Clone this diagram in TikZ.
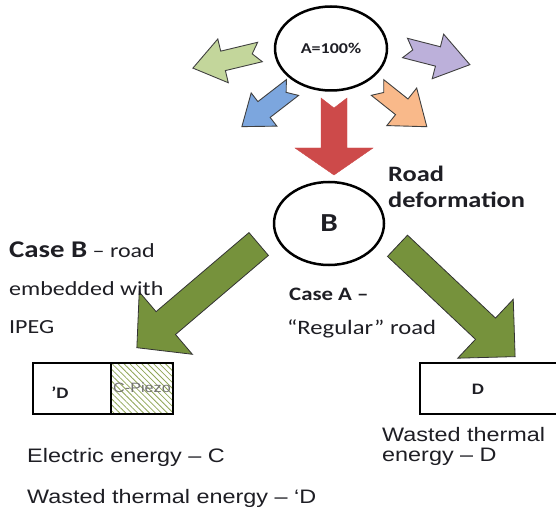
\documentclass[tikz,border=0pt]{standalone}
\usepackage{fontspec}
\setmainfont{Carlito}[FakeStretch=1.2]
\newfontfamily\arialfont{Liberation Sans}[FakeStretch=1.2]
\usetikzlibrary{shapes.geometric,patterns.meta}

\definecolor{lossgreen}{HTML}{C3D69B}
\definecolor{lossblue}{HTML}{7CA6DE}
\definecolor{losspurple}{HTML}{BCB0DA}
\definecolor{lossorange}{HTML}{F9B98A}
\definecolor{deformred}{HTML}{CD4A4A}
\definecolor{olivegreen}{HTML}{76923C}
\definecolor{hatchgreen}{HTML}{8FA556}
\definecolor{textdark}{HTML}{1E1E24}

% block arrow along +x from (0,0):
% #1 options, #2 length, #3 shaft half width, #4 head half width, #5 head length, #6 notch
\newcommand{\blockarrow}[6]{%
  \draw[#1] (0,#3) -- ({#2-#5},#3) -- ({#2-#5},#4) -- (#2,0)
    -- ({#2-#5},-#4) -- ({#2-#5},-#3) -- (0,-#3) -- (#6,0) -- cycle;
}

\tikzset{
  energy/.style={draw, ellipse, line width=2.5pt, text=textdark},
  lossarrow/.style={draw=black!75, line width=0.9pt},
  casearrow/.style={fill=olivegreen, draw=black!80, line width=0.8pt},
  box/.style={draw, rectangle, line width=1.2pt, minimum height=51, inner sep=0},
  lbl/.style={anchor=base west, inner sep=0, text=textdark},
  arial/.style={font=\arialfont\fontsize{19.5}{23}\selectfont},
}

\begin{document}
\begin{tikzpicture}[x=1pt, y=1pt]
  \useasboundingbox (0,0) rectangle (556,-513);

  % energy states
  \node[energy, minimum width=112, minimum height=84,
    font=\fontsize{15}{18}\selectfont\bfseries] (A) at (331,-48.5) {A=100\%};
  \node[energy, minimum width=110, minimum height=83,
    font=\fontsize{26}{30}\selectfont\bfseries] (B) at (329,-223.5) {B};

  % losses
  \blockarrow{lossarrow, fill=lossgreen, shift={(260,-52)}, rotate=193.5}{69}{10}{22.5}{31}{8}
  \blockarrow{lossarrow, fill=lossblue, shift={(292.5,-87.5)}, rotate=217.7}{64}{10}{21}{28}{8}
  \blockarrow{lossarrow, fill=losspurple, shift={(405,-48)}, rotate=-14.4}{67}{10}{23}{33}{8}
  \blockarrow{lossarrow, fill=lossorange, shift={(377.5,-87.5)}, rotate=-38.5}{63}{10}{24}{32}{8}

  % deformation
  \blockarrow{fill=deformred, draw=deformred, shift={(334,-98)}, rotate=-90}{77}{13}{39}{27}{10}

  % the two cases
  \blockarrow{casearrow, shift={(258.7,-244)}, rotate=220.4}{160}{15}{41}{38}{0}
  \blockarrow{casearrow, shift={(397.5,-245.8)}, rotate=-43.3}{161.6}{14.6}{40.5}{40.7}{0}

  % boxes
  \node[box, minimum width=78] (pD) at (72,-388.5) {};
  \node[box, minimum width=62, pattern color=hatchgreen,
    pattern={Lines[angle=-45, distance=4.2pt, line width=0.8pt]}] (piezo) at (142,-388.5) {};
  \node[box, minimum width=138] (regD) at (489,-388.5) {};

  \node[text=textdark, font=\fontsize{16}{18}\selectfont\bfseries] (pDlbl) at (60,-393) {\char"27 D};
  \node[inner sep=0, text=black!55, font=\arialfont\fontsize{13.5}{15}\selectfont] (piezolbl) at (142,-388) {C-Piezo};
  \node[text=textdark, font=\fontsize{16}{18}\selectfont\bfseries] (regDlbl) at (478,-389) {D};

  % texts
  \node[lbl, font=\fontsize{22}{26}\selectfont\bfseries] (road) at (388,-182) {Road};
  \node[lbl, font=\fontsize{22}{26}\selectfont\bfseries] (deform) at (388,-207) {deformation};

  \node[lbl, font=\fontsize{20}{24}\selectfont] (caseB) at (9,-257)
    {{\fontsize{24}{28}\selectfont\bfseries Case B} – road};
  \node[lbl, font=\fontsize{20}{24}\selectfont] (embed) at (9,-295) {embedded with};
  \node[lbl, font=\fontsize{20}{24}\selectfont] (ipeg) at (9,-333) {IPEG};

  \node[lbl, font=\fontsize{19}{23}\selectfont\bfseries] (caseA) at (289,-300) {Case A –};
  \node[lbl, font=\fontsize{20.5}{24}\selectfont] (regular) at (287,-334) {“Regular” road};

  \node[lbl, arial] (wasteR1) at (382,-441) {Wasted thermal};
  \node[lbl, arial] (wasteR2) at (382,-461) {energy – D};
  \node[lbl, arial] (elec) at (27,-462) {Electric energy – C};
  \node[lbl, arial] (wasteL) at (27,-503) {Wasted thermal energy – ‘D};
\end{tikzpicture}
\end{document}
